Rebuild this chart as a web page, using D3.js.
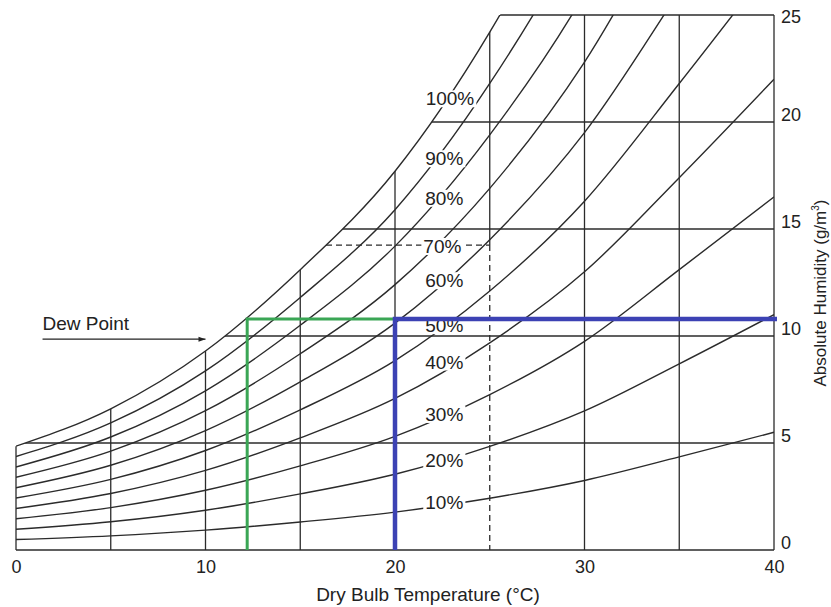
<!DOCTYPE html>
<head>
<meta charset="utf-8">
<title></title>
<style>
body { margin: 0; background: #fff; }
svg { font-family: "Liberation Sans", Arial, sans-serif; }
.grid { fill: none; stroke: #2b2b2b; stroke-width: 1.3px; }
.curve { fill: none; stroke: #2b2b2b; stroke-width: 1.4px; }
.lbl { font-size: 19px; fill: #222; }
</style>
</head>
<body>
<script src="https://cdn.jsdelivr.net/npm/d3@7"></script>
<script>

var temps = [0, 5, 10, 15, 20, 25, 30, 35, 40];

// absolute humidity (g/m3) of each relative humidity curve
var rh100 = [4.85, 6.6, 9.3, 13.1, 17.7, 24.2, 32.5, 43.5, 55];
var rh90  = [4.37, 5.94, 8.37, 11.8, 15.9, 21.8, 29.3, 39.2, 49.5];
var rh80  = [3.88, 5.28, 7.44, 10.5, 14.2, 19.4, 26.0, 34.8, 44];
var rh70  = [3.40, 4.62, 6.51, 9.17, 12.4, 16.9, 22.8, 30.5, 38.5];
var rh60  = [2.91, 3.96, 5.58, 7.86, 10.6, 14.5, 19.5, 26.1, 33];
var rh50  = [2.43, 3.30, 4.65, 6.55, 8.85, 12.1, 16.3, 21.8, 27.5];
var rh40  = [1.94, 2.64, 3.72, 5.24, 7.08, 9.68, 13.0, 17.4, 22];
var rh30  = [1.46, 1.98, 2.79, 3.93, 5.31, 7.26, 9.75, 13.1, 16.5];
var rh20  = [0.97, 1.32, 1.86, 2.62, 3.54, 4.84, 6.5, 8.7, 11];
var rh10  = [0.49, 0.66, 0.93, 1.31, 1.77, 2.42, 3.25, 4.35, 5.5];

var curveNames = ["100%", "90%", "80%", "70%", "60%", "50%", "40%", "30%", "20%", "10%"];
var curveValues = [rh100, rh90, rh80, rh70, rh60, rh50, rh40, rh30, rh20, rh10];

// where the curve labels sit (temperature, humidity)
var labelT  = [22.9, 22.6, 22.6, 22.5, 22.6, 22.6, 22.6, 22.6, 22.6, 22.6];
var labelAH = [21.1, 18.3, 16.45, 14.2, 12.6, 10.5, 8.8, 6.35, 4.2, 2.25];

// grid
var hLines = [5, 10, 15, 20, 25];
var vLines = [5, 10, 15, 20, 30, 35];
var xTicks = [0, 10, 20, 30, 40];
var yTicks = [0, 5, 10, 15, 20, 25];

// worked example
var dashT = 25, dashAH = 14.25;
var dewT = 12.2, dewAH = 10.8, dryT = 20;
var arrowFrom = [1.4, 9.85], arrowTo = [10.0, 9.85];

var width = 831, height = 607;

var x = d3.scaleLinear().domain([0, 40]).range([16, 774]);
var y = d3.scaleLinear().domain([0, 25]).range([550, 15]);

var svg = d3.select("body").append("svg")
    .attr("width", width)
    .attr("height", height);

var defs = svg.append("defs");

var satArea = d3.area()
    .x(function(d, i) { return x(temps[i]); })
    .y0(y(0))
    .y1(function(d) { return y(d); })
    .curve(d3.curveMonotoneX);

defs.append("clipPath").attr("id", "under-sat")
  .append("path").attr("d", satArea(rh100));

defs.append("clipPath").attr("id", "plot")
  .append("rect")
    .attr("x", x(0)).attr("y", y(25))
    .attr("width", x(40) - x(0)).attr("height", y(0) - y(25));

defs.append("marker").attr("id", "head")
    .attr("viewBox", "0 0 10 10").attr("refX", 10).attr("refY", 5)
    .attr("markerWidth", 10).attr("markerHeight", 7)
    .attr("markerUnits", "userSpaceOnUse")
    .attr("orient", "auto")
  .append("path").attr("d", "M0,1.5L10,5L0,8.5Z").attr("fill", "#222");

// grid lines, cut off by the saturation curve
var gridG = svg.append("g").attr("clip-path", "url(#under-sat)");

gridG.selectAll(".hl").data(hLines).enter().append("line")
    .attr("class", "grid")
    .attr("x1", x(0)).attr("x2", x(40))
    .attr("y1", function(d) { return y(d); })
    .attr("y2", function(d) { return y(d); });

gridG.selectAll(".vl").data(vLines).enter().append("line")
    .attr("class", "grid")
    .attr("x1", function(d) { return x(d); })
    .attr("x2", function(d) { return x(d); })
    .attr("y1", y(0)).attr("y2", y(25));

// solid part of the 25 deg line above the dashed level
gridG.append("line").attr("class", "grid")
    .attr("x1", x(dashT)).attr("x2", x(dashT))
    .attr("y1", y(dashAH)).attr("y2", y(25));

// dashed construction lines
gridG.append("line").attr("class", "grid")
    .style("stroke-dasharray", "6,4")
    .attr("x1", x(0)).attr("x2", x(dashT))
    .attr("y1", y(dashAH)).attr("y2", y(dashAH));
gridG.append("line").attr("class", "grid")
    .style("stroke-dasharray", "6,4")
    .attr("x1", x(dashT)).attr("x2", x(dashT))
    .attr("y1", y(dashAH)).attr("y2", y(0));

// frame
svg.append("line").attr("class", "grid")
    .attr("x1", x(0)).attr("x2", x(40)).attr("y1", y(0)).attr("y2", y(0));
svg.append("line").attr("class", "grid")
    .attr("x1", x(40)).attr("x2", x(40)).attr("y1", y(0)).attr("y2", y(25));
svg.append("line").attr("class", "grid")
    .attr("x1", x(0)).attr("x2", x(0)).attr("y1", y(0)).attr("y2", y(rh100[0]));

// humidity curves
var line = d3.line()
    .x(function(d, i) { return x(temps[i]); })
    .y(function(d) { return y(d); })
    .curve(d3.curveMonotoneX);

svg.append("g").attr("clip-path", "url(#plot)")
  .selectAll("path").data(curveValues).enter().append("path")
    .attr("class", "curve")
    .attr("d", line);

// curve labels with a white patch behind
var labels = svg.append("g").selectAll("g").data(curveNames).enter().append("g")
    .attr("transform", function(d, i) {
        return "translate(" + x(labelT[i]) + "," + y(labelAH[i]) + ")";
    });
labels.append("text")
    .attr("class", "lbl")
    .attr("text-anchor", "middle")
    .attr("dy", "0.36em")
    .text(function(d) { return d; });
labels.each(function() {
    var g = d3.select(this);
    var bb = g.select("text").node().getBBox();
    g.insert("rect", "text")
        .attr("x", bb.x - 2).attr("y", bb.y + 2)
        .attr("width", bb.width + 4).attr("height", bb.height - 4)
        .attr("fill", "#fff");
});

// dew point example (green) and dry bulb state (blue)
svg.append("polyline")
    .attr("points", [[x(dewT), y(0)], [x(dewT), y(dewAH)], [x(dryT), y(dewAH)]].join(" "))
    .attr("fill", "none").attr("stroke", "#3aa655").attr("stroke-width", 3);
svg.append("polyline")
    .attr("points", [[x(dryT), y(0)], [x(dryT), y(dewAH)], [x(40) + 3, y(dewAH)]].join(" "))
    .attr("fill", "none").attr("stroke", "#3c42b4").attr("stroke-width", 4.5);

// Dew Point arrow
svg.append("line")
    .attr("x1", x(arrowFrom[0])).attr("y1", y(arrowFrom[1]))
    .attr("x2", x(arrowTo[0])).attr("y2", y(arrowTo[1]))
    .attr("stroke", "#222").attr("stroke-width", 1.3)
    .attr("marker-end", "url(#head)");
svg.append("text")
    .attr("class", "lbl")
    .attr("x", x(arrowFrom[0]))
    .attr("y", y(arrowFrom[1]) - 9)
    .text("Dew Point");

// axes
var xAxis = svg.append("g")
    .attr("transform", "translate(0," + y(0) + ")")
    .call(d3.axisBottom(x).tickValues(xTicks).tickSize(0).tickPadding(10));
xAxis.select(".domain").remove();
xAxis.selectAll("text").style("font-size", "18px").style("font-family", "Liberation Sans, Arial, sans-serif").attr("fill", "#222");

var yAxis = svg.append("g")
    .attr("transform", "translate(" + x(40) + ",0)")
    .call(d3.axisRight(y).tickValues(yTicks).tickSize(0).tickPadding(7));
yAxis.select(".domain").remove();
yAxis.selectAll("text").style("font-size", "18px").style("font-family", "Liberation Sans, Arial, sans-serif")
    .attr("fill", "#222").attr("y", function(d) { return d === 25 ? 2 : -7; });

svg.append("text")
    .attr("class", "lbl")
    .attr("x", 428).attr("y", 601)
    .attr("text-anchor", "middle")
    .text("Dry Bulb Temperature (°C)");

svg.append("text")
    .attr("class", "lbl")
    .attr("transform", "translate(826,293) rotate(-90)")
    .attr("text-anchor", "middle")
    .style("font-size", "17px")
    .html("Absolute Humidity (g/m<tspan dy='-7' font-size='10px'>3</tspan><tspan dy='7'>)</tspan>");

</script>
</body>
</html>
